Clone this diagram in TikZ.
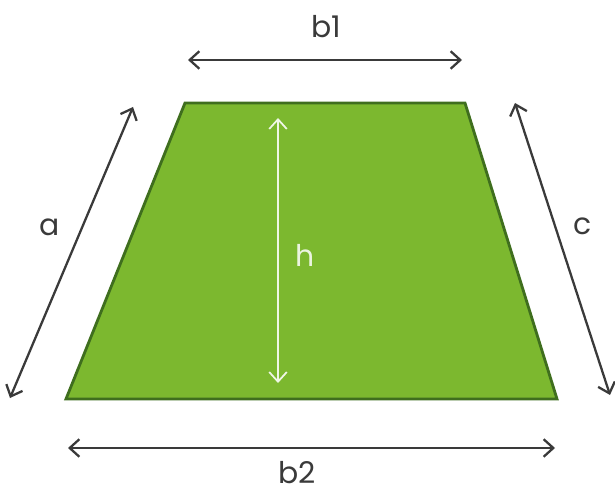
\documentclass[tikz,border=0pt]{standalone}
\usepackage{fontspec}
\setmainfont{Poppins}
\usetikzlibrary{arrows.meta}

\definecolor{trapfill}{HTML}{7CB82F}
\definecolor{trapline}{HTML}{3F6E1E}
\definecolor{measure}{HTML}{3A3A3A}

\begin{document}
\begin{tikzpicture}[>={Straight Barb[length=5.5pt,width=10pt]}, line width=1.3pt,
    font=\fontsize{17}{20}\selectfont,
    measure/.style={<->, draw=measure},
    lbl/.style={text=measure, inner sep=0pt}]

% ═══════════════════════════════════════════════════════
% MARCO
% ═══════════════════════════════════════════════════════
\useasboundingbox (0,0) rectangle (12.3,9.9);

% ═══════════════════════════════════════════════════════
% TRAPECIO
% ═══════════════════════════════════════════════════════
\coordinate (TL) at (3.70,7.84);
\coordinate (TR) at (9.30,7.84);
\coordinate (BR) at (11.14,1.92);
\coordinate (BL) at (1.32,1.92);

\filldraw[fill=trapfill, draw=trapline, line width=1.6pt, line join=miter]
    (TL) -- (TR) -- (BR) -- (BL) -- cycle;

% ═══════════════════════════════════════════════════════
% COTAS
% ═══════════════════════════════════════════════════════

% b1 (arriba)
\coordinate (b1L) at (3.76,8.70);
\coordinate (b1R) at (9.24,8.70);
\draw[measure] (b1L) -- (b1R);
\node[lbl] (b1) at (6.52,9.36) {b1};

% b2 (abajo)
\coordinate (b2L) at (1.36,0.94);
\coordinate (b2R) at (11.10,0.94);
\draw[measure] (b2L) -- (b2R);
\node[lbl] (b2) at (5.94,0.44) {b2};

% a (lado izquierdo)
\coordinate (aB) at (0.20,1.94);
\coordinate (aT) at (2.66,7.76);
\draw[measure] (aB) -- (aT);
\node[lbl] (a) at (1.00,5.36) {a};

% c (lado derecho)
\coordinate (cT) at (10.30,7.84);
\coordinate (cB) at (12.20,2.00);
\draw[measure] (cT) -- (cB);
\node[lbl] (c) at (11.66,5.38) {c};

% h (altura, en blanco)
\coordinate (hT) at (5.56,7.54);
\coordinate (hB) at (5.56,2.24);
\draw[<->, draw=white!88!trapfill, line width=1pt] (hT) -- (hB);
\node[inner sep=0pt, text=white!85!trapfill] (h) at (6.10,4.80) {h};

\end{tikzpicture}
\end{document}
